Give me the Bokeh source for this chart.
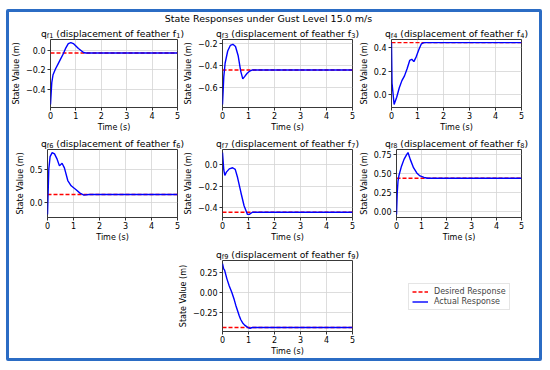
from bokeh.plotting import figure
from bokeh.models import Label, Legend, LegendItem, FixedTicker, Range1d
from bokeh.layouts import column, row
from bokeh.embed import file_html
from bokeh.resources import INLINE

FONT = "DejaVu Sans"
SUPTITLE = "State Responses under Gust Level 15.0 m/s"
time_ticks = [0, 1, 2, 3, 4, 5]
time_labels = ["0", "1", "2", "3", "4", "5"]

# ---- data ----
t_f1 = [0, 0.05, 0.1, 0.2, 0.3, 0.4, 0.5, 0.6, 0.7, 0.8, 0.9, 1.0, 1.1, 1.2, 1.3, 1.4, 5.0]
y_f1 = [-0.55, -0.33, -0.25, -0.19, -0.14, -0.09, -0.04, 0.02, 0.065, 0.075, 0.065, 0.04, 0.015, -0.005, -0.025, -0.03, -0.03]
t_f3 = [0, 0.05, 0.1, 0.2, 0.3, 0.4, 0.5, 0.6, 0.7, 0.78, 0.85, 0.95, 1.05, 1.15, 1.3, 5.0]
y_f3 = [-0.75, -0.5, -0.38, -0.27, -0.22, -0.21, -0.23, -0.31, -0.45, -0.52, -0.5, -0.47, -0.45, -0.44, -0.44, -0.44]
t_f4 = [0, 0.02, 0.1, 0.2, 0.3, 0.4, 0.5, 0.6, 0.7, 0.78, 0.86, 0.95, 1.05, 1.15, 1.25, 5.0]
y_f4 = [0.44, 0.1, -0.08, -0.02, 0.06, 0.12, 0.16, 0.22, 0.29, 0.3, 0.28, 0.32, 0.38, 0.43, 0.44, 0.44]
t_f6 = [0, 0.05, 0.1, 0.18, 0.27, 0.36, 0.46, 0.56, 0.65, 0.78, 0.91, 1.1, 1.25, 1.4, 1.6, 5.0]
y_f6 = [-0.18, 0.5, 0.69, 0.75, 0.73, 0.66, 0.55, 0.59, 0.52, 0.33, 0.25, 0.19, 0.14, 0.11, 0.12, 0.12]
t_f7 = [0, 0.05, 0.09, 0.15, 0.26, 0.39, 0.49, 0.58, 0.71, 0.83, 0.96, 1.03, 1.15, 1.3, 5.0]
y_f7 = [0.11, -0.05, -0.1, -0.07, -0.04, -0.03, -0.045, -0.12, -0.26, -0.38, -0.46, -0.46, -0.44, -0.44, -0.44]
t_f8 = [0, 0.03, 0.06, 0.1, 0.2, 0.3, 0.4, 0.46, 0.55, 0.68, 0.81, 0.94, 1.1, 1.25, 5.0]
y_f8 = [-0.04, 0.25, 0.4, 0.48, 0.6, 0.69, 0.75, 0.78, 0.69, 0.58, 0.51, 0.47, 0.45, 0.44, 0.44]
t_f9 = [0, 0.04, 0.08, 0.17, 0.26, 0.36, 0.45, 0.51, 0.58, 0.64, 0.7, 0.77, 0.85, 0.93, 1.0, 1.06, 1.15, 5.0]
y_f9 = [0.36, 0.3, 0.28, 0.17, 0.08, 0.0, -0.09, -0.16, -0.23, -0.29, -0.34, -0.38, -0.41, -0.43, -0.445, -0.45, -0.44, -0.44]

desired = {"1": -0.03, "3": -0.44, "4": 0.44, "6": 0.12, "7": -0.44, "8": 0.44, "9": -0.44}

yticks_f1 = [-0.4, -0.2, 0.0]; ylabels_f1 = ["\u22120.4", "\u22120.2", "0.0"]
yticks_f3 = [-0.6, -0.4, -0.2]; ylabels_f3 = ["\u22120.6", "\u22120.4", "\u22120.2"]
yticks_f4 = [0.0, 0.2, 0.4]; ylabels_f4 = ["0.0", "0.2", "0.4"]
yticks_f6 = [0.0, 0.5]; ylabels_f6 = ["0.0", "0.5"]
yticks_f7 = [-0.4, -0.2, 0.0]; ylabels_f7 = ["\u22120.4", "\u22120.2", "0.0"]
yticks_f8 = [0.0, 0.25, 0.5, 0.75]; ylabels_f8 = ["0.00", "0.25", "0.50", "0.75"]
yticks_f9 = [-0.25, 0.0, 0.25]; ylabels_f9 = ["\u22120.25", "0.00", "0.25"]
legend_labels = ["Desired Response", "Actual Response"]

# DejaVu Sans advance widths (units per em 2048) for laying out sub-scripted titles
ADV = {' ': 651, '(': 799, ')': 799, 'a': 1255, 'c': 1126, 'd': 1300, 'e': 1260, 'f': 721,
       'h': 1298, 'i': 569, 'l': 569, 'm': 1995, 'n': 1298, 'o': 1253, 'p': 1300, 'q': 1300,
       'r': 842, 's': 1067, 't': 803}


def text_w(s, size):
    return sum(ADV.get(c, 1303) for c in s) / 2048.0 * size


TITLE_SIZE = 9.2
SUB_SIZE = 6.6
SUB_DROP = 2.3
INNER_W = 530


def strip_fig(height, width=INNER_W, xr=(0, 1), yr=(0, 1)):
    f = figure(width=width, height=height, x_range=Range1d(*xr), y_range=Range1d(*yr),
               x_axis_type=None, y_axis_type=None, output_backend="svg", toolbar_location=None,
               title_location=None, min_border=0, outline_line_color=None,
               background_fill_color="white", border_fill_color="white")
    return f


def add_title(f, k, cx, y):
    """cx: centre in strip pixels from left, y: baseline in pixels from strip bottom."""
    pieces = [("q", False), ("f" + k, True), (" (displacement of feather f", False), (k, True), (")", False)]
    widths = [text_w(s, SUB_SIZE if sub else TITLE_SIZE) for s, sub in pieces]
    x = cx - sum(widths) / 2.0
    for (s, sub), w in zip(pieces, widths):
        size = SUB_SIZE if sub else TITLE_SIZE
        lead = len(s) - len(s.lstrip(" "))
        x_txt = x + text_w(" " * lead, size)
        f.add_layout(Label(x=x_txt, y=y - (SUB_DROP if sub else 0), x_units="screen", y_units="screen",
                           text=s.lstrip(" "), text_font=FONT, text_font_size=f"{size}px",
                           text_color="black", text_align="left", text_baseline="alphabetic"))
        x += w


def make_fig(k, t, y, yticks, ylabels, width, height, left, right, top, bottom, top_pad=0.05):
    span = max(y) - min(y)
    yr = (min(y) - 0.05 * span, max(y) + top_pad * span)
    p = figure(width=width, height=height, x_range=Range1d(0, 5), y_range=Range1d(*yr),
               output_backend="svg", toolbar_location=None, title_location=None,
               min_border_left=left, min_border_right=right, min_border_top=top, min_border_bottom=bottom,
               background_fill_color="white", border_fill_color="white")
    p.xaxis.ticker = FixedTicker(ticks=time_ticks)
    p.xaxis.major_label_overrides = dict(zip(time_ticks, time_labels))
    p.yaxis.ticker = FixedTicker(ticks=yticks)
    p.yaxis.major_label_overrides = dict(zip(yticks, ylabels))
    p.xaxis.axis_label = "Time (s)"
    p.yaxis.axis_label = "State Value (m)"
    for ax in p.axis:
        ax.axis_line_color = None
        ax.major_tick_out = 3
        ax.major_tick_in = 0
        ax.major_tick_line_color = "black"
        ax.major_tick_line_width = 0.8
        ax.minor_tick_line_color = None
        ax.major_label_text_font = FONT
        ax.major_label_text_font_size = "8px"
        ax.major_label_text_color = "black"
        ax.major_label_standoff = 1
        ax.axis_label_text_font = FONT
        ax.axis_label_text_font_size = "8px"
        ax.axis_label_text_font_style = "normal"
        ax.axis_label_text_color = "black"
        ax.axis_label_standoff = 1
    p.yaxis.major_label_standoff = 2
    p.yaxis.axis_label_standoff = 2
    p.grid.grid_line_color = "#d4d4d4"
    p.grid.grid_line_width = 0.8
    p.outline_line_color = "#222222"
    p.outline_line_width = 0.9
    p.line([0, 5], [desired[k], desired[k]], line_color="#ff0000", line_width=1.4, line_dash="4 2")
    p.line(t, y, line_color="#0000ff", line_width=1.4)
    return p


# ---- geometry (pixels, inside the blue frame) ----
W1, W2, W3 = 172, 175, 183
L1, L2, L3 = 38, 41, 35
R1, R2, R3 = 4, 4, 18
HP, TP, BP = 95, 0, 24          # plot figure height / top / bottom borders
HP3, BP3 = 98, 27               # last row
C1, C2, C3 = 103, 278, 447      # title centres (frame centres) from inner left
TB = 6.3                        # title baseline above strip bottom (= frame top)

# strip with suptitle + first row of titles
s1 = strip_fig(27)
s1.add_layout(Label(x=259, y=21, x_units="screen", y_units="screen", text=SUPTITLE,
                    text_font=FONT, text_font_size="9.5px", text_color="black",
                    text_align="center", text_baseline="middle"))
for k, c in zip(["1", "3", "4"], [C1, C2, C3]):
    add_title(s1, k, c, TB)

s2 = strip_fig(15)
for k, c in zip(["6", "7", "8"], [C1, C2, C3]):
    add_title(s2, k, c, TB)

s3 = strip_fig(16)
add_title(s3, "9", C2, TB)

p1 = make_fig("1", t_f1, y_f1, yticks_f1, ylabels_f1, W1, HP, L1, R1, TP, BP)
p3 = make_fig("3", t_f3, y_f3, yticks_f3, ylabels_f3, W2, HP, L2, R2, TP, BP, top_pad=0.08)
p4 = make_fig("4", t_f4, y_f4, yticks_f4, ylabels_f4, W3, HP, L3, R3, TP, BP)
p6 = make_fig("6", t_f6, y_f6, yticks_f6, ylabels_f6, W1, HP, L1, R1, TP, BP)
p7 = make_fig("7", t_f7, y_f7, yticks_f7, ylabels_f7, W2, HP, L2, R2, TP, BP)
p8 = make_fig("8", t_f8, y_f8, yticks_f8, ylabels_f8, W3, HP, L3, R3, TP, BP)
p9 = make_fig("9", t_f9, y_f9, yticks_f9, ylabels_f9, W1 + W2, HP3, 213, R2, TP, BP3)

# legend panel: its two sample renderers use the f9 series, kept out of view
lf = strip_fig(HP3, W3, xr=(-2, -1), yr=(-2, -1))
r_des = lf.line([0, 5], [desired["9"], desired["9"]], line_color="#ff0000", line_width=1.4, line_dash="4 2")
r_act = lf.line(t_f9, y_f9, line_color="#0000ff", line_width=1.4)
legend = Legend(items=[LegendItem(label=legend_labels[0], renderers=[r_des]),
                       LegendItem(label=legend_labels[1], renderers=[r_act])],
                location=(52, 21), label_text_font=FONT, label_text_font_size="8px",
                glyph_width=16, glyph_height=9, label_height=9, label_standoff=6,
                padding=3, spacing=1, margin=0, border_line_color="#cccccc",
                border_line_width=0.8, background_fill_color="white", background_fill_alpha=0.9)
lf.add_layout(legend)

root = column(s1, row(p1, p3, p4), s2, row(p6, p7, p8), s3, row(p9, lf),
              margin=(9, 0, 0, 6),
              styles={"border": "3px solid #2b6cc4", "border-radius": "2px"})

open("out.html", "w").write(file_html(root, INLINE))
